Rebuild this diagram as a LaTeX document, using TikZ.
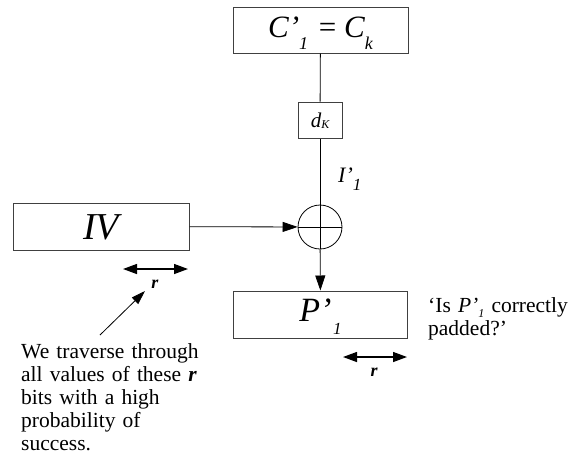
\documentclass[tikz,border=0pt]{standalone}
\usepackage{fontspec}
\setmainfont{Liberation Serif}
\usetikzlibrary{arrows.meta}
\newcommand\fs[1]{\fontsize{#1}{#1}\selectfont}
\newcommand\lsub[3]{\raisebox{#1}[0pt][0pt]{\fs{#2}#3}}
\begin{document}
\begin{tikzpicture}[x=1pt,y=-1pt,
  blk/.style={draw=black!75, line width=1pt, rectangle, inner sep=0pt},
  conn/.style={line width=0.8pt},
  tip/.style={-{Triangle[length=15pt,width=10pt]}},
  dbl/.style={line width=1.3pt,{Triangle[length=14pt,width=10pt]}-{Triangle[length=14pt,width=10pt]}},
  lbl/.style={inner sep=0pt}]
\useasboundingbox (0,0) rectangle (571,467);
\node[blk, minimum width=175pt, minimum height=46pt, text height=20pt, text depth=6pt] (top) at (320.5,30)
  {\fs{31}\itshape C’\lsub{-12pt}{18}{1}\hspace{0.35em}\upshape=\hspace{0.25em}\itshape C\lsub{-12pt}{18}{k}};
\node[blk, minimum width=44pt, minimum height=36pt, text height=14pt, text depth=0pt] (dk) at (320,120)
  {\fs{21}\itshape d\lsub{-1.5pt}{12}{K}};
\node[draw, circle, line width=0.8pt, minimum size=44pt, inner sep=0pt] (xor) at (320,227) {};
\node[blk, minimum width=176pt, minimum height=47pt, text height=25pt, text depth=0pt] (iv) at (101,226.5) {\fs{38}\itshape IV};
\node[blk, minimum width=174pt, minimum height=47pt, text height=19pt, text depth=6pt] (p) at (320.5,314.5)
  {\fs{34}\itshape P’\hspace{0.05em}\lsub{-13pt}{17}{1}};
\draw[conn] (top) -- (dk);
\draw[conn] (dk) -- (xor);
\draw[conn] (xor.north) -- (xor.south);
\draw[conn] (xor.west) -- (xor.east);
\draw[conn,tip] (iv) -- (xor);
\draw[conn,tip] (xor) -- (p);
\node[lbl, anchor=base west] (ilbl) at (338,182) {\fs{22}\itshape I’\lsub{-8pt}{17}{1}};
% r arrows
\coordinate (a1) at (123,269); \coordinate (a2) at (188,269);
\draw[dbl] (a1) -- (a2);
\node[lbl] (r1) at (155,284) {\fs{18}\bfseries\itshape r};
\coordinate (b1) at (343,357); \coordinate (b2) at (407,357);
\draw[dbl] (b1) -- (b2);
\node[lbl] (r2) at (374,372) {\fs{18}\bfseries\itshape r};
\node[lbl, anchor=north west, align=left, font=\fs{21.5}, text width=220pt] (note) at (21,343)
  {\baselineskip=23pt We traverse through\\ all values of these {\bfseries\itshape r}\\ bits with a high\\ probability of\\ success.\par};
\coordinate (pt) at (100,335);
\draw[conn,-{Triangle[length=14pt,width=9pt]}] (pt) -- (145,291);
\node[lbl, anchor=north west, align=left, font=\fs{21.5}, text width=220pt] (q) at (428,297.5)
  {\baselineskip=23pt ‘Is {\itshape P’\lsub{-4.5pt}{12}{1}} correctly\\ padded?’\par};
\end{tikzpicture}
\end{document}
